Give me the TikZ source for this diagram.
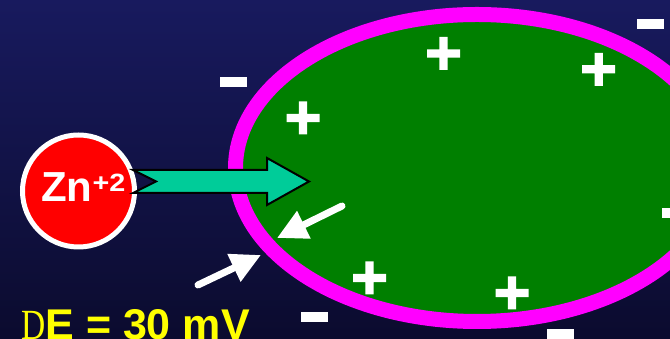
\documentclass[tikz,border=0pt]{standalone}
\usepackage{fontspec}
\setmainfont{Liberation Sans}
\newfontfamily\deltafont{Liberation Serif}
\usepackage{xcolor}
\definecolor{nighttop}{HTML}{181A5E}
\definecolor{nightbot}{HTML}{0B0B2E}
\definecolor{membrane}{HTML}{FF00FF}
\definecolor{cytosol}{HTML}{007F00}
\definecolor{influx}{HTML}{00CC99}
\definecolor{potential}{HTML}{FFFF00}
\usetikzlibrary{arrows.meta,shapes.geometric,positioning}

\tikzset{
  poscharge/.pic={\fill[white] (-16.5,-4.2) rectangle (16.5,4.2) (-4.2,-16.5) rectangle (4.2,16.5);},
  negcharge/.pic={\fill[white] (-13.5,-5) rectangle (13.5,5);}
}

\begin{document}
\begin{tikzpicture}[x=1pt,y=1pt]
  \tikzstyle{cell}=[ellipse,draw=membrane,fill=cytosol,line width=15pt,minimum width=483pt,minimum height=307pt,inner sep=0pt]
  \tikzstyle{ion}=[circle,fill=red,draw=white,line width=5pt,minimum size=112pt,inner sep=0pt]
  \tikzstyle{influxarrow}=[fill=influx,draw=black,line width=2pt,line join=miter]
  \tikzstyle{chargeflow}=[white,line width=7pt,line cap=round,-{Triangle[length=30pt,width=29pt]}]

  % night sky background
  \fill[top color=nighttop,bottom color=nightbot] (0,0) rectangle (670,339);
  \useasboundingbox (0,0) rectangle (670,339);
  \clip (0,0) rectangle (670,339);

  \node[cell] (cell) at (477,171) {};
  \node[ion]  (zn)   at (78.5,148) {};
  \node[anchor=base west,inner sep=0pt,text=white,font=\bfseries\fontsize{42}{42}\selectfont] (znlabel) at (41,137)
    {Zn\raisebox{10pt}{\scalebox{1.15}[1]{\fontsize{25}{25}\selectfont +2}}};

  % zinc entering the cell
  \coordinate (entry) at (309,157.5);
  \draw[influxarrow] (133,169) -- (267,169) -- (267,181) -- (entry) -- (267,134)
    -- (267,146) -- (133,146) -- (156,157.5) -- cycle;

  % charges inside and outside
  \foreach \p in {(443.5,285.5),(598.7,269.7),(303,221),(369.5,61),(512,46)}
    \pic at \p {poscharge};
  \foreach \p in {(233.5,257),(650.5,315),(314.5,21.5),(560.5,5),(675.5,125.5)}
    \pic at \p {negcharge};

  % counter charges across the membrane
  \coordinate (inA)  at (342,133);
  \coordinate (memA) at (277,101);
  \coordinate (outB) at (198,54);
  \coordinate (memB) at (261,84);
  \draw[chargeflow] (inA) -- (memA);
  \draw[chargeflow] (outB) -- (memB);

  \node[anchor=base west,inner sep=0pt,text=potential,font=\bfseries\fontsize{43}{43}\selectfont] (dE) at (21,-1)
    {{\mdseries\deltafont\scalebox{0.78}[1]{D}}E = 30 mV};
\end{tikzpicture}
\end{document}
